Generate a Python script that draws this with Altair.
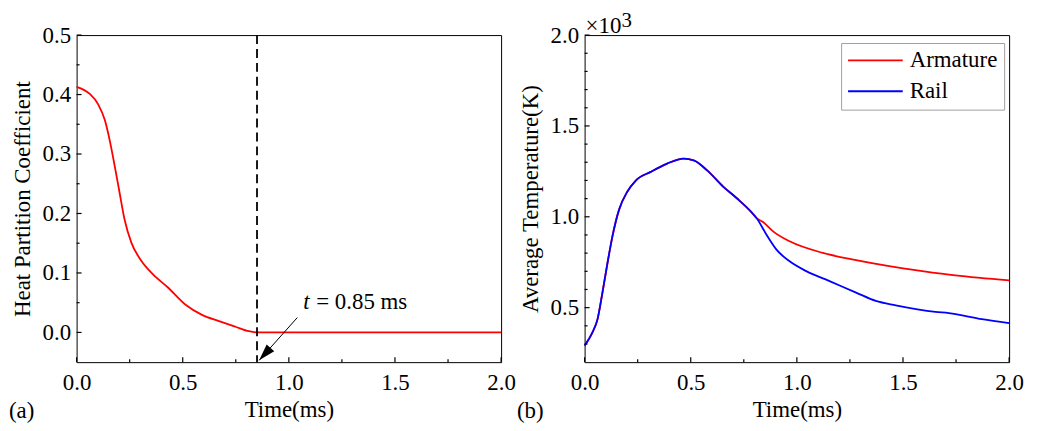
import altair as alt
import pandas as pd

FONT = "Liberation Serif"
FS = 23

# ---------------- Panel (a): heat partition coefficient ----------------
t_a = [0.0, 0.062, 0.101, 0.133, 0.156, 0.180, 0.203, 0.226, 0.258, 0.304,
       0.359, 0.429, 0.515, 0.593, 0.671, 0.749, 0.812, 0.859, 1.0, 1.5, 2.0]
hpc = [0.413, 0.401, 0.384, 0.357, 0.323, 0.279, 0.234, 0.190, 0.151, 0.121,
       0.098, 0.076, 0.046, 0.029, 0.019, 0.0095, 0.002, 0.0, 0.0, 0.0, 0.0]

marker_t = [0.85]
arrow_from = [1.04, 0.025]
arrow_tip = [0.86, -0.047]
ann_t_pos = [1.068, 0.04]
ann_rest_pos = [1.129, 0.04]

# ---------------- Panel (b): average temperature ----------------
t_common = [0.0, 0.037, 0.061, 0.084, 0.108, 0.131, 0.162, 0.201, 0.240, 0.311,
            0.389, 0.467, 0.514, 0.576, 0.654, 0.717, 0.779]
T_common = [291, 364, 437, 583, 747, 892, 1038, 1138, 1198, 1247,
            1293, 1320, 1311, 1257, 1165, 1102, 1034]
t_arm = [0.810, 0.842, 0.888, 0.966, 1.123, 1.279, 1.435, 1.591, 1.747, 2.0]
T_arm = [993, 970, 920, 865, 801, 761, 728, 701, 677, 650]
t_rail = [0.810, 0.857, 0.904, 0.966, 1.044, 1.154, 1.279, 1.372, 1.466, 1.653,
          1.716, 1.872, 2.0]
T_rail = [993, 901, 819, 755, 701, 646, 583, 537, 513, 477, 470, 437, 415]

series_names = ["Armature", "Rail"]
series_colors = ["#ff0000", "#0000ff"]

x_major = [0.0, 0.5, 1.0, 1.5, 2.0]
x_minor = [0.25, 0.75, 1.25, 1.75]
ya_major = [0.0, 0.1, 0.2, 0.3, 0.4, 0.5]
ya_minor = [0.05, 0.15, 0.25, 0.35, 0.45]
yb_major = [500, 1000, 1500, 2000]
yb_minor = [300, 400, 600, 700, 800, 900, 1100, 1200, 1300, 1400,
            1600, 1700, 1800, 1900]

W, H = 427, 329
SPACING = 84
MAJ, MIN = 5, 3

df_a = pd.DataFrame({"t": t_a, "v": hpc})
df_marker = pd.DataFrame({"t": marker_t})
df_arrow = pd.DataFrame({"x0": [arrow_from[0]], "y0": [arrow_from[1]],
                         "x1": [arrow_tip[0]], "y1": [arrow_tip[1]]})
df_tip = pd.DataFrame({"x": [arrow_tip[0]], "y": [arrow_tip[1]]})
df_ann1 = pd.DataFrame({"x": [ann_t_pos[0]], "y": [ann_t_pos[1]], "s": ["t"]})
df_ann2 = pd.DataFrame({"x": [ann_rest_pos[0]], "y": [ann_rest_pos[1]], "s": ["= 0.85 ms"]})

arm_t = t_common + t_arm
arm_T = T_common + T_arm
rail_t = t_common + t_rail
rail_T = T_common + T_rail
df_b = pd.DataFrame({
    "t": arm_t + rail_t,
    "T": arm_T + rail_T,
    "series": ["Armature"] * len(arm_t) + ["Rail"] * len(rail_t),
})

xs = alt.Scale(domain=[0, 2], nice=False, zero=False)
ysa = alt.Scale(domain=[-0.05, 0.5], nice=False, zero=False)
ysb = alt.Scale(domain=[200, 2000], nice=False, zero=False)

AX_STYLE = dict(labelFont=FONT, titleFont=FONT, labelFontSize=FS, titleFontSize=FS,
                titleFontWeight="normal", labelColor="black", titleColor="black",
                ticks=False, tickSize=0, offset=0,
                grid=False, domain=False, labelFlush=False)

# one axis object per scale, shared by every layer of a panel
AX_X = alt.Axis(values=x_major, format=".1f", title="Time(ms)", orient="bottom",
                labelPadding=10, titlePadding=4, **AX_STYLE)
AX_YA = alt.Axis(values=ya_major, format=".1f", title="Heat Partition Coefficient",
                 orient="left", labelPadding=6, titlePadding=8, **AX_STYLE)
AX_YB = alt.Axis(values=yb_major, labelExpr="format(datum.value/1000, '.1f')",
                 title="Average Temperature(K)", orient="left",
                 labelPadding=6, titlePadding=8, **AX_STYLE)


def inward_ticks(xmaj, xmin, ymaj, ymin, yscale, yaxis):
    """Inward-pointing tick marks, placed through the panel's own scales."""
    out = []
    for vals, ln in [(xmaj, MAJ), (xmin, MIN)]:
        out.append(alt.Chart(pd.DataFrame({"v": vals})).mark_rule(
            color="black", strokeWidth=1.2).encode(
            x=alt.X("v:Q", scale=xs, axis=AX_X),
            y=alt.value(H), y2=alt.value(H - ln)))
    for vals, ln in [(ymaj, MAJ), (ymin, MIN)]:
        out.append(alt.Chart(pd.DataFrame({"v": vals})).mark_rule(
            color="black", strokeWidth=1.2).encode(
            y=alt.Y("v:Q", scale=yscale, axis=yaxis),
            x=alt.value(0), x2=alt.value(ln)))
    return out


# ---- panel a layers ----
line_a = alt.Chart(df_a).mark_line(color="#ff0000", strokeWidth=1.8, interpolate="monotone").encode(
    x=alt.X("t:Q", scale=xs, axis=AX_X),
    y=alt.Y("v:Q", scale=ysa, axis=AX_YA),
)
vline = alt.Chart(df_marker).mark_rule(color="black", strokeWidth=1.8, strokeDash=[9, 5]).encode(
    x=alt.X("t:Q", scale=xs, axis=AX_X),
)
arrow_line = alt.Chart(df_arrow).mark_rule(color="black", strokeWidth=1).encode(
    x=alt.X("x0:Q", scale=xs, axis=AX_X),
    y=alt.Y("y0:Q", scale=ysa, axis=AX_YA),
    x2="x1:Q",
    y2="y1:Q",
)
arrow_head = alt.Chart(df_tip).mark_point(
    shape="M0,0L-0.6,2L0.6,2Z", filled=True, size=289, angle=222,
    color="black", opacity=1, strokeWidth=0,
).encode(
    x=alt.X("x:Q", scale=xs, axis=AX_X),
    y=alt.Y("y:Q", scale=ysa, axis=AX_YA),
)
ann1 = alt.Chart(df_ann1).mark_text(font=FONT, fontSize=FS, fontStyle="italic",
                                    align="left", baseline="alphabetic", color="black").encode(
    x=alt.X("x:Q", scale=xs, axis=AX_X),
    y=alt.Y("y:Q", scale=ysa, axis=AX_YA),
    text="s:N",
)
ann2 = alt.Chart(df_ann2).mark_text(font=FONT, fontSize=FS,
                                    align="left", baseline="alphabetic", color="black").encode(
    x=alt.X("x:Q", scale=xs, axis=AX_X),
    y=alt.Y("y:Q", scale=ysa, axis=AX_YA),
    text="s:N",
)
lab_a = alt.Chart(pd.DataFrame({"s": ["(a)"]})).mark_text(
    font=FONT, fontSize=FS, align="left", baseline="alphabetic", color="black"
).encode(x=alt.value(-68), y=alt.value(385), text="s:N")

panel_a = alt.layer(
    line_a, vline, arrow_line, arrow_head, ann1, ann2, lab_a,
    *inward_ticks(x_major, x_minor, ya_major, ya_minor, ysa, AX_YA)
).properties(width=W, height=H)

# ---- panel b layers ----
color_enc = alt.Color(
    "series:N",
    scale=alt.Scale(domain=series_names, range=series_colors),
    legend=alt.Legend(
        title=None, orient="none", legendX=258 + W + SPACING, legendY=8,
        symbolType="stroke", symbolSize=3025, symbolStrokeWidth=1.8,
        clipHeight=23, rowPadding=7, labelFontSize=FS, labelFont=FONT,
        labelOffset=6, padding=6, strokeColor="#a0a0a0", fillColor="white",
        labelColor="black",
    ),
)
line_b = alt.Chart(df_b).mark_line(strokeWidth=1.8, interpolate="monotone").encode(
    x=alt.X("t:Q", scale=xs, axis=AX_X),
    y=alt.Y("T:Q", scale=ysb, axis=AX_YB),
    color=color_enc,
    order=alt.Order("t:Q"),
)
exp_base = alt.Chart(pd.DataFrame({"s": ["\u00d710"]})).mark_text(
    font=FONT, fontSize=23, align="left", baseline="alphabetic", color="black"
).encode(x=alt.value(1), y=alt.value(-2), text="s:N")
exp_sup = alt.Chart(pd.DataFrame({"s": ["3"]})).mark_text(
    font=FONT, fontSize=21, align="left", baseline="alphabetic", color="black"
).encode(x=alt.value(37), y=alt.value(-8), text="s:N")
lab_b = alt.Chart(pd.DataFrame({"s": ["(b)"]})).mark_text(
    font=FONT, fontSize=FS, align="left", baseline="alphabetic", color="black"
).encode(x=alt.value(-68), y=alt.value(385), text="s:N")

panel_b = alt.layer(
    line_b, exp_base, exp_sup, lab_b,
    *inward_ticks(x_major, x_minor, yb_major, yb_minor, ysb, AX_YB)
).properties(width=W, height=H)

chart = alt.hconcat(panel_a, panel_b, spacing=SPACING, bounds="flush").configure_view(
    stroke="black", strokeWidth=1
).properties(background="white", padding={"left": 0, "top": 0, "right": 5, "bottom": 5})

chart.save("out.html", embed_options={"renderer": "svg", "actions": False})
